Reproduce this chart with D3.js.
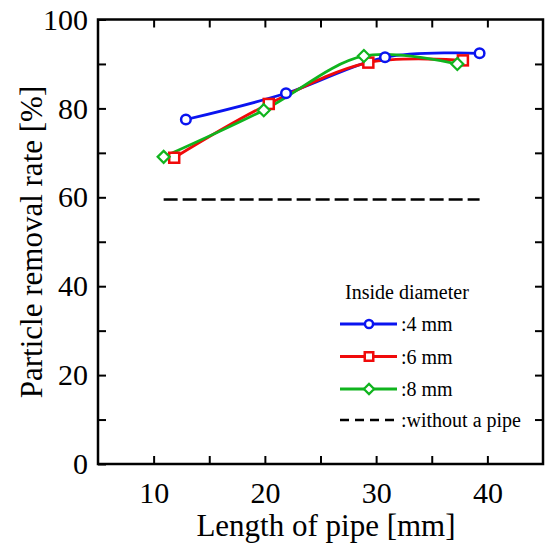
<!DOCTYPE html>
<html>
<head>
<meta charset="utf-8">
<script src="https://cdn.jsdelivr.net/npm/d3@7"></script>
<style>
  body { margin: 0; background: #fff; }
  svg text { font-family: "Liberation Serif", "DejaVu Serif", Times, serif; }
</style>
</head>
<body>
<div id="chart"></div>
<script>
// data
const pipe4 = [[12.9, 77.5], [21.9, 83.4], [30.8, 91.5], [39.3, 92.4]];
const pipe6 = [[11.85, 68.9], [20.35, 81.0], [29.3, 90.3], [37.8, 90.8]];
const pipe8 = [[10.9, 69.1], [19.9, 79.6], [28.9, 91.8], [37.3, 90.0]];
const noPipe = [[10.9, 59.5], [39.3, 59.5]];
const xTicks = [10, 20, 30, 40];
const yTicks = [0, 20, 40, 60, 80, 100];
const legendLabels = [":4 mm", ":6 mm", ":8 mm", ":without a pipe"];

const width = 546;
const height = 545;
const plotLeft = 98, plotRight = 543, plotTop = 19.5, plotBottom = 464;
const serif = '"Liberation Serif", "DejaVu Serif", Times, serif';

const svg = d3.select("#chart")
    .append("svg")
    .attr("width", width)
    .attr("height", height)
    .attr("font-family", serif);

// scales
const xScale = d3.scaleLinear().domain([5, 45]).range([plotLeft, plotRight]);
const yScale = d3.scaleLinear().domain([0, 100]).range([plotBottom, plotTop]);

// axes, ticks inward on all four sides
const xAxis = d3.axisBottom(xScale).tickValues(d3.range(10, 45, 5)).tickSize(-8)
    .tickFormat(d => xTicks.includes(d) ? d : "").tickPadding(18);
const yAxis = d3.axisLeft(yScale).tickValues(d3.range(0, 101, 10)).tickSize(-8)
    .tickFormat(d => yTicks.includes(d) ? d : "").tickPadding(10);
const xTop = d3.axisTop(xScale).tickValues(d3.range(10, 45, 5)).tickSize(-8).tickFormat("");
const yRight = d3.axisRight(yScale).tickValues(d3.range(10, 100, 10)).tickSize(-8).tickFormat("");

function styleAxis(g) {
    g.attr("font-family", serif);
    g.select(".domain").remove();
    g.selectAll(".tick line").attr("stroke", "#000").attr("stroke-width", 2);
    g.selectAll(".tick text").attr("font-size", "30px").attr("fill", "#000");
}

svg.append("g").attr("transform", "translate(0," + plotBottom + ")").call(xAxis).call(styleAxis);
svg.append("g").attr("transform", "translate(" + plotLeft + ",0)").call(yAxis).call(styleAxis);
svg.append("g").attr("transform", "translate(0," + plotTop + ")").call(xTop).call(styleAxis);
svg.append("g").attr("transform", "translate(" + plotRight + ",0)").call(yRight).call(styleAxis);

// frame
svg.append("rect")
    .attr("x", plotLeft).attr("y", plotTop)
    .attr("width", plotRight - plotLeft).attr("height", plotBottom - plotTop)
    .attr("fill", "none").attr("stroke", "#000").attr("stroke-width", 2.5);

// dashed reference line
svg.append("path")
    .datum(noPipe)
    .attr("d", d3.line().x(d => xScale(d[0])).y(d => yScale(d[1])))
    .attr("stroke", "#000").attr("stroke-width", 2.5)
    .attr("stroke-dasharray", "14,5").attr("fill", "none");

const series = [
    { data: pipe4, color: "#0a14f0", marker: "circle" },
    { data: pipe6, color: "#f00a0a", marker: "square" },
    { data: pipe8, color: "#10b41e", marker: "diamond" }
];

const curve = d3.line().curve(d3.curveCatmullRom.alpha(0.5))
    .x(d => xScale(d[0])).y(d => yScale(d[1]));

function drawMarker(g, type, x, y, color, size) {
    const k = size || 1;
    if (type === "circle") {
        g.append("circle").attr("cx", x).attr("cy", y).attr("r", 4.8 * k)
            .attr("fill", "#fff").attr("stroke", color).attr("stroke-width", 2.5);
    } else if (type === "square") {
        g.append("rect").attr("x", x - 5 * k).attr("y", y - 5 * k)
            .attr("width", 10 * k).attr("height", 10 * k)
            .attr("fill", "#fff").attr("stroke", color).attr("stroke-width", 2.5);
    } else {
        const r = 6 * k;
        g.append("path").attr("d", `M${x},${y - r}L${x + r},${y}L${x},${y + r}L${x - r},${y}Z`)
            .attr("fill", "#fff").attr("stroke", color).attr("stroke-width", 2.2);
    }
}

series.forEach(s => {
    svg.append("path").datum(s.data).attr("d", curve)
        .attr("fill", "none").attr("stroke", s.color).attr("stroke-width", 2.8);
});
series.forEach(s => {
    const g = svg.append("g");
    s.data.forEach(d => drawMarker(g, s.marker, xScale(d[0]), yScale(d[1]), s.color));
});

// axis titles
svg.append("text")
    .attr("x", 326).attr("y", 536)
    .attr("text-anchor", "middle").attr("font-size", "31px")
    .text("Length of pipe [mm]");

svg.append("text")
    .attr("transform", "translate(42,242) rotate(-90)")
    .attr("text-anchor", "middle").attr("font-size", "31px")
    .text("Particle removal rate [%]");

// legend
const legend = svg.append("g");
legend.append("text").attr("x", 345).attr("y", 299).attr("font-size", "20px")
    .text("Inside diameter");
const legendY = [324, 356.5, 389, 420];
series.forEach((s, i) => {
    legend.append("line").attr("x1", 340).attr("x2", 397)
        .attr("y1", legendY[i]).attr("y2", legendY[i])
        .attr("stroke", s.color).attr("stroke-width", 2.8);
    drawMarker(legend, s.marker, 369, legendY[i], s.color, 0.85);
});
legend.append("line").attr("x1", 340).attr("x2", 397)
    .attr("y1", legendY[3]).attr("y2", legendY[3])
    .attr("stroke", "#000").attr("stroke-width", 2.5).attr("stroke-dasharray", "9,6");
legendLabels.forEach((t, i) => {
    legend.append("text").attr("x", 401).attr("y", legendY[i] + 7)
        .attr("font-size", "20px").text(t);
});
</script>
</body>
</html>
